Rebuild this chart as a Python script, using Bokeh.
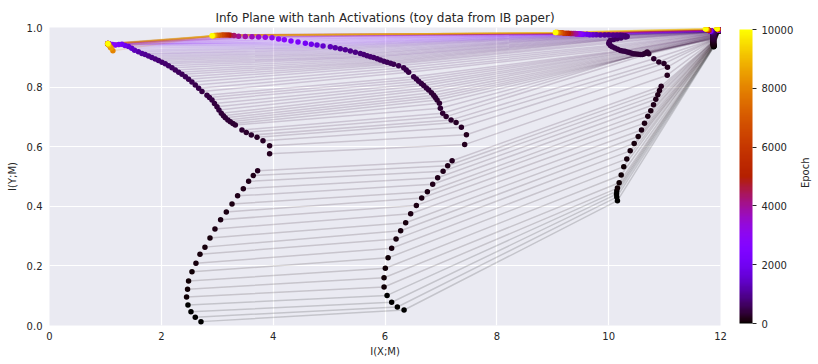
import math
from bokeh.plotting import figure
from bokeh.layouts import row
from bokeh.models import (ColumnDataSource, ColorBar, LinearColorMapper, FixedTicker,
                          PrintfTickFormatter)
from bokeh.core.properties import value
from bokeh.embed import file_html
from bokeh.resources import INLINE

# ---------------- data ----------------
epochs = [0, 10, 20, 30, 40, 50, 60, 70, 80, 90, 100, 110, 120, 130, 140, 150, 160, 170, 180, 190, 200, 210, 220,
          240, 260, 280, 300, 320,
          330, 340, 350, 360, 370, 380, 390, 400, 410, 420, 430, 440, 450, 460, 480, 500, 520, 540, 560, 580, 600, 620,
          650, 680, 710, 740, 780, 820, 870, 920, 980, 1050,
          1150, 1300, 1500, 1700, 1900, 2100,
          2300, 2500, 2700, 2900, 3100, 3300, 3500, 3700, 3900,
          4000, 4300, 4600, 5000, 5500, 6000, 6500, 7000, 7500, 8000, 8500, 9000, 9500, 10000]

# last hidden layer (leftmost trajectory)
le_x = [2.709, 2.607, 2.530, 2.476, 2.451, 2.469, 2.487, 2.548, 2.619, 2.691, 2.780, 2.870, 2.959, 3.060, 3.162,
        3.264, 3.364, 3.466, 3.561, 3.645, 3.722, 3.936, 3.936,
        3.818, 3.711, 3.609, 3.519, 3.442,
        3.323, 3.28, 3.233, 3.19, 3.144, 3.11, 3.072, 3.03, 2.995, 2.95, 2.906, 2.86, 2.816, 2.727, 2.667, 2.607,
        2.547, 2.487, 2.43, 2.369, 2.31, 2.249, 2.19, 2.129, 2.07, 2.011, 1.95, 1.891, 1.83, 1.771, 1.71, 1.653,
        1.59, 1.521, 1.47, 1.413, 1.35, 1.295, 1.24, 1.176, 1.13, 1.086, 1.07, 1.06, 1.05, 1.05, 1.045,
        1.045, 1.045, 1.04, 1.045, 1.04, 1.045, 1.05, 1.06, 1.09, 1.134, 1.10, 1.06, 1.045, 1.045]
le_y = [0.013, 0.028, 0.046, 0.069, 0.096, 0.122, 0.149, 0.180, 0.209, 0.239, 0.263, 0.294, 0.324, 0.355, 0.381,
        0.408, 0.435, 0.459, 0.484, 0.503, 0.519, 0.576, 0.603,
        0.620, 0.632, 0.639, 0.648, 0.656,
        0.673, 0.678, 0.684, 0.690, 0.697, 0.704, 0.712, 0.723, 0.734, 0.745, 0.757, 0.765, 0.773, 0.785, 0.796,
        0.807, 0.817, 0.826, 0.835, 0.843, 0.850, 0.857, 0.865, 0.872, 0.878, 0.883, 0.889, 0.894, 0.899, 0.904,
        0.909, 0.913, 0.919, 0.924, 0.930, 0.936, 0.940, 0.944, 0.943, 0.941, 0.943, 0.944, 0.945, 0.945, 0.946,
        0.945, 0.945,
        0.946, 0.945, 0.946, 0.945, 0.945, 0.946, 0.944, 0.941, 0.934, 0.922, 0.931, 0.941, 0.945, 0.946]

# layer with trajectory around I(X;M) 6-7.5
ld_x = [6.341, 6.221, 6.119, 6.037, 5.983, 5.983, 6.006, 6.055, 6.119, 6.198, 6.280, 6.370, 6.459, 6.561, 6.656,
        6.758, 6.853, 6.942, 7.039, 7.121, 7.200, 7.425, 7.456,
        7.366, 7.271, 7.182, 7.093, 7.032,
        6.990, 6.973, 6.931, 6.90, 6.871, 6.83, 6.781, 6.74, 6.692, 6.65, 6.602, 6.56, 6.513, 6.423, 6.38, 6.334,
        6.244, 6.155, 6.10, 6.037, 5.98, 5.917, 5.86, 5.797, 5.74, 5.679, 5.62, 5.559, 5.47, 5.38, 5.29, 5.20,
        5.11, 5.022, 4.892, 4.784, 4.682, 4.575, 4.444, 4.319, 4.199, 4.097, 3.979, 3.859, 3.739, 3.621, 3.501,
        3.382, 3.30, 3.24, 3.203, 3.16, 3.12, 3.085, 3.04, 3.00, 2.97, 2.95, 2.93, 2.915, 2.906]
ld_y = [0.052, 0.062, 0.078, 0.101, 0.129, 0.160, 0.192, 0.227, 0.259, 0.290, 0.318, 0.345, 0.375, 0.403, 0.428,
        0.449, 0.474, 0.496, 0.518, 0.536, 0.553, 0.607, 0.640,
        0.665, 0.681, 0.690, 0.701, 0.712,
        0.729, 0.746, 0.757, 0.765, 0.773, 0.781, 0.790, 0.797, 0.805, 0.812, 0.820, 0.827, 0.835, 0.850, 0.857,
        0.865, 0.872, 0.877, 0.880, 0.883, 0.887, 0.891, 0.895, 0.899, 0.902, 0.905, 0.909, 0.913, 0.917, 0.921,
        0.925, 0.929, 0.932, 0.935, 0.938, 0.941, 0.944, 0.947, 0.951, 0.955, 0.959, 0.961, 0.966, 0.967, 0.968,
        0.969, 0.970,
        0.971, 0.973, 0.974, 0.975, 0.975, 0.975, 0.975, 0.974, 0.974, 0.973, 0.973, 0.972, 0.972, 0.972]

# layer with trajectory around I(X;M) 9-11
lc_x = [10.157, 10.145, 10.140, 10.145, 10.157, 10.188, 10.224, 10.270, 10.324, 10.385, 10.456, 10.528, 10.587,
        10.641, 10.700, 10.753, 10.802, 10.843, 10.879, 10.909, 10.939, 11.047, 11.052,
        10.989, 10.897, 10.807, 10.717, 10.689,
        10.66, 10.63, 10.60, 10.569, 10.53, 10.49, 10.449, 10.41, 10.37, 10.331, 10.29, 10.25, 10.211, 10.16,
        10.11, 10.063, 10.03, 10.002, 10.01, 10.032, 10.09, 10.152, 10.22, 10.301, 10.33, 10.30, 10.25, 10.211,
        10.15, 10.08, 10.00, 9.93, 9.853, 9.78, 9.72, 9.66, 9.61, 9.549, 9.52, 9.50, 9.48, 9.46, 9.45, 9.43,
        9.42, 9.41, 9.40,
        9.37, 9.34, 9.316, 9.28, 9.24, 9.20, 9.17, 9.137, 9.11, 9.09, 9.07, 9.055, 9.05, 9.048]
lc_y = [0.419, 0.431, 0.441, 0.451, 0.461, 0.479, 0.505, 0.533, 0.559, 0.586, 0.611, 0.634, 0.656, 0.679, 0.702,
        0.721, 0.741, 0.759, 0.774, 0.789, 0.803, 0.840, 0.867,
        0.879, 0.884, 0.895, 0.912, 0.918,
        0.914, 0.911, 0.909, 0.909, 0.910, 0.911, 0.912, 0.914, 0.916, 0.918, 0.920, 0.921, 0.923, 0.927, 0.931,
        0.935, 0.940, 0.946, 0.951, 0.957, 0.960, 0.962, 0.965, 0.968, 0.970, 0.972, 0.973, 0.974, 0.974, 0.974,
        0.975, 0.975, 0.975, 0.976, 0.976, 0.976, 0.977, 0.977, 0.977, 0.978, 0.978, 0.978, 0.979, 0.979, 0.979,
        0.979, 0.980,
        0.980, 0.980, 0.980, 0.981, 0.981, 0.981, 0.982, 0.982, 0.982, 0.983, 0.983, 0.983, 0.983, 0.983]

# second layer (near the top right corner)
lb_x = [11.88, 11.88, 11.88, 11.88, 11.87, 11.88, 11.88, 11.87, 11.88, 11.87, 11.88, 11.87, 11.87, 11.88, 11.87,
        11.87, 11.88, 11.87, 11.87, 11.87, 11.88, 11.87, 11.87,
        11.87, 11.87, 11.87, 11.88, 11.87,
        11.87, 11.88, 11.87, 11.87, 11.88, 11.87, 11.87, 11.87, 11.88, 11.87, 11.87, 11.87, 11.88, 11.87, 11.87,
        11.87, 11.88, 11.87, 11.87, 11.87, 11.88, 11.87,
        11.87, 11.86, 11.86, 11.86, 11.85, 11.85, 11.85, 11.84, 11.84, 11.84, 11.83, 11.83, 11.83, 11.82, 11.82,
        11.82, 11.82, 11.81, 11.81, 11.81, 11.81, 11.80, 11.80, 11.80, 11.80,
        11.80, 11.79, 11.79, 11.78, 11.78, 11.77, 11.77, 11.76, 11.76, 11.75, 11.75, 11.74, 11.74, 11.73]
lb_y = [0.935, 0.936, 0.937, 0.938, 0.939, 0.940, 0.941, 0.942, 0.943, 0.944, 0.945, 0.946, 0.947, 0.948, 0.949,
        0.950, 0.951, 0.952, 0.953, 0.954, 0.955, 0.956, 0.957,
        0.958, 0.959, 0.960, 0.961, 0.962,
        0.963, 0.964, 0.965, 0.966, 0.967, 0.968, 0.969, 0.970, 0.971, 0.972, 0.973, 0.974, 0.975, 0.976, 0.977,
        0.978, 0.979, 0.980, 0.981, 0.982, 0.983, 0.984,
        0.985, 0.985, 0.985, 0.986, 0.986, 0.986, 0.986, 0.987, 0.987, 0.987, 0.987, 0.988, 0.988, 0.988, 0.988,
        0.988, 0.989, 0.989, 0.989, 0.989, 0.989, 0.990, 0.990, 0.990, 0.990,
        0.990, 0.991, 0.991, 0.992, 0.992, 0.993, 0.993, 0.994, 0.994, 0.995, 0.995, 0.995, 0.996, 0.996]

# first layer (top right corner)
la_x = [11.98, 11.98, 11.98, 11.98, 11.98, 11.98, 11.98, 11.98, 11.98, 11.98, 11.98, 11.98, 11.98, 11.98, 11.98,
        11.98, 11.98, 11.98, 11.98, 11.98, 11.98, 11.98, 11.98,
        11.98, 11.98, 11.98, 11.98, 11.98,
        11.98, 11.98, 11.98, 11.98, 11.98, 11.98, 11.98, 11.98, 11.98, 11.98, 11.98, 11.98, 11.98, 11.98, 11.98,
        11.98, 11.98, 11.98, 11.98, 11.98, 11.98, 11.98,
        11.97, 11.97, 11.97, 11.97, 11.97, 11.97, 11.97, 11.97, 11.97, 11.97, 11.97, 11.97, 11.97, 11.97, 11.97,
        11.97, 11.97, 11.97, 11.97, 11.97, 11.97, 11.97, 11.97, 11.97, 11.97,
        11.96, 11.96, 11.96, 11.96, 11.96, 11.95, 11.95, 11.95, 11.95, 11.95, 11.94, 11.94, 11.94, 11.94]
la_y = [0.990, 0.990, 0.990, 0.990, 0.990, 0.990, 0.990, 0.990, 0.990, 0.990, 0.990, 0.990, 0.990, 0.990, 0.990,
        0.990, 0.990, 0.990, 0.990, 0.990, 0.990, 0.990, 0.990,
        0.991, 0.991, 0.991, 0.991, 0.991,
        0.991, 0.991, 0.991, 0.991, 0.991, 0.991, 0.991, 0.991, 0.991, 0.991, 0.991, 0.991, 0.991, 0.991, 0.991,
        0.991, 0.991, 0.991, 0.991, 0.991, 0.991, 0.991,
        0.992, 0.992, 0.992, 0.992, 0.992, 0.992, 0.992, 0.992, 0.992, 0.992, 0.992, 0.992, 0.992, 0.992, 0.992,
        0.992, 0.992, 0.992, 0.992, 0.992, 0.992, 0.992, 0.992, 0.992, 0.992,
        0.993, 0.993, 0.994, 0.994, 0.994, 0.995, 0.995, 0.995, 0.996, 0.996, 0.996, 0.997, 0.997, 0.997]

x_ticks = [0, 2, 4, 6, 8, 10, 12]
y_ticks = [0.0, 0.2, 0.4, 0.6, 0.8, 1.0]
cbar_ticks = [0, 2000, 4000, 6000, 8000, 10000]
EPOCH_MAX = 10000

# ---------------- colormap (matplotlib "gnuplot") ----------------
def gnuplot_palette(n=256):
    pal = []
    for i in range(n):
        t = i / (n - 1)
        r = math.sqrt(t)
        g = t ** 3
        b = min(max(math.sin(2 * math.pi * t), 0.0), 1.0)
        pal.append("#%02x%02x%02x" % (round(r * 255), round(g * 255), round(b * 255)))
    return pal

PAL = gnuplot_palette()
mapper = LinearColorMapper(palette=PAL, low=0, high=EPOCH_MAX)

layers = [(le_x, le_y), (ld_x, ld_y), (lc_x, lc_y), (lb_x, lb_y), (la_x, la_y)]
n = len(epochs)
xs = [[lx[i] for lx, _ in layers] for i in range(n)]
ys = [[ly[i] for _, ly in layers] for i in range(n)]
line_src = ColumnDataSource(dict(xs=xs, ys=ys, epoch=epochs))

pts = sorted([(epochs[i], lx[i], ly[i]) for lx, ly in layers for i in range(n)], key=lambda t: t[0])
pt_src = ColumnDataSource(dict(epoch=[t[0] for t in pts], x=[t[1] for t in pts], y=[t[2] for t in pts]))

FONT = "DejaVu Sans"
TXT = "#262626"

p = figure(frame_width=671, frame_height=298, x_range=(0, 12), y_range=(0, 1),
           output_backend="svg", toolbar_location=None,
           min_border_left=49, min_border_right=78, min_border_top=27, min_border_bottom=36,
           background_fill_color="#EAEAF2", border_fill_color="white", outline_line_color=None,
           title="Info Plane with tanh Activations (toy data from IB paper)")

p.title.align = "center"
p.title.text_font = FONT
p.title.text_font_size = "12px"
p.title.text_font_style = "normal"
p.title.text_color = TXT
p.title.standoff = 6

p.multi_line("xs", "ys", source=line_src,
             line_color={"field": "epoch", "transform": mapper},
             line_alpha=0.16, line_width=1.5)
p.scatter("x", "y", source=pt_src, size=5.5,
          fill_color={"field": "epoch", "transform": mapper}, line_color=None)

p.xaxis.ticker = FixedTicker(ticks=x_ticks)
p.yaxis.ticker = FixedTicker(ticks=y_ticks)
p.yaxis.formatter = PrintfTickFormatter(format="%.1f")
p.xaxis.axis_label = "I(X;M)"
p.yaxis.axis_label = "I(Y;M)"
for ax in p.axis:
    ax.axis_line_color = None
    ax.major_tick_line_color = None
    ax.minor_tick_line_color = None
    ax.major_tick_out = 0
    ax.major_tick_in = 0
    ax.minor_tick_out = 0
    ax.minor_tick_in = 0
    ax.major_label_text_font = FONT
    ax.major_label_text_font_size = "10px"
    ax.major_label_text_color = TXT
    ax.axis_label_text_font = FONT
    ax.axis_label_text_font_size = "10px"
    ax.axis_label_text_font_style = "normal"
    ax.axis_label_text_color = TXT
p.xaxis.major_label_standoff = 6
p.xaxis.axis_label_standoff = 3
p.yaxis.major_label_standoff = 7
p.yaxis.axis_label_standoff = 6

p.grid.grid_line_color = "white"
p.grid.grid_line_width = 1.2

cb = ColorBar(color_mapper=mapper, ticker=FixedTicker(ticks=cbar_ticks),
              formatter=PrintfTickFormatter(format="%d"),
              width=13, height=294, location=(19, 2), margin=0, padding=0,
              major_tick_in=0, major_tick_out=4, major_tick_line_color=TXT,
              minor_tick_line_color=None,
              major_label_text_font=FONT, major_label_text_font_size="10px",
              major_label_text_color=TXT, label_standoff=5,
              bar_line_color=None, border_line_color=None, background_fill_color=None)
p.add_layout(cb, "right")

# narrow strip holding the rotated colour-bar label
q = figure(width=14, height=361, x_range=(0, 1), y_range=(0, 1),
           output_backend="svg", toolbar_location=None,
           x_axis_location=None, y_axis_location=None,
           min_border=0, outline_line_color=None,
           background_fill_color="white", border_fill_color="white")
q.grid.visible = False
q.text(x=[0.5], y=[0.5125], text=["Epoch"], angle=math.pi / 2,
       text_align="center", text_baseline="middle",
       text_font=value(FONT), text_font_size="10px", text_color=TXT)

layout = row(p, q)
open("out.html", "w").write(file_html(layout, INLINE))
